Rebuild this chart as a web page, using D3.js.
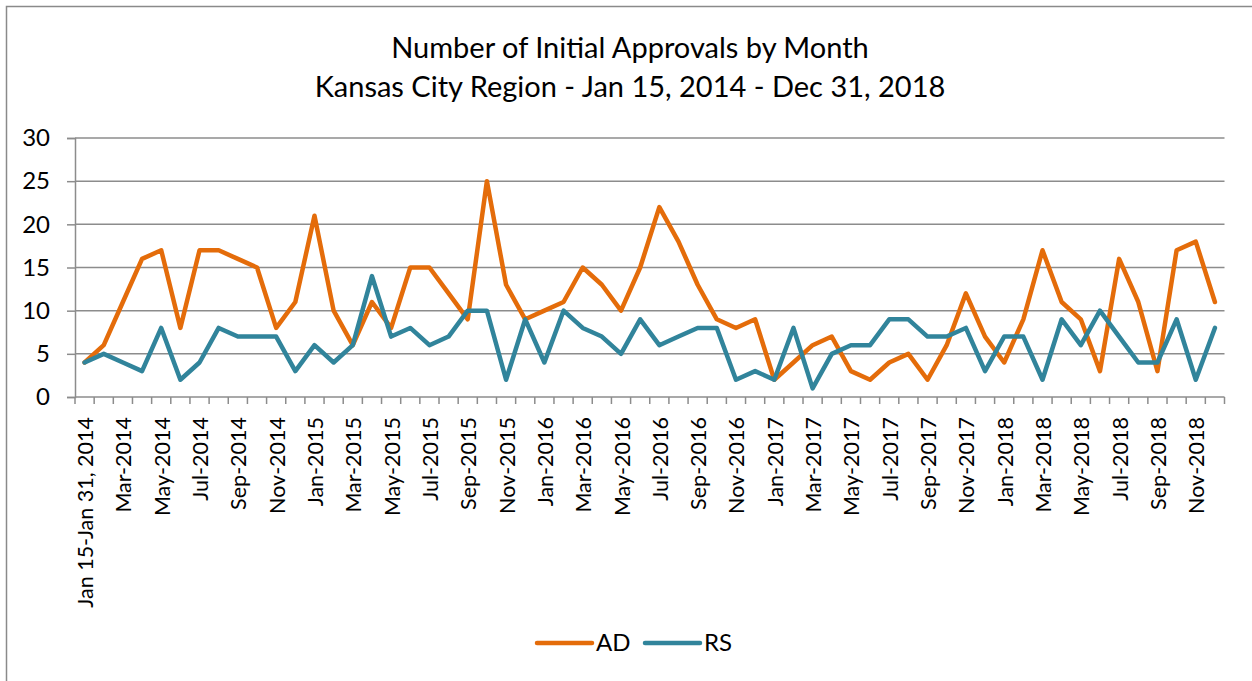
<!DOCTYPE html>
<html>
<head>
<meta charset="utf-8">
<script src="https://cdnjs.cloudflare.com/ajax/libs/d3/7.8.5/d3.min.js"></script>
<style>
    body { margin: 0; background: #fff; }
    text { font-family: Lato, "Open Sans", sans-serif; fill: #000; }
</style>
</head>
<body>
<svg id="chart"></svg>
<script>
const width = 1252,
    height = 681;

const margin = {top: 138, right: 28, bottom: 284, left: 75}

const titleLines = ["Number of Initial Approvals by Month", "Kansas City Region - Jan 15, 2014 - Dec 31, 2018"];

const monthNames = ["Jan", "Feb", "Mar", "Apr", "May", "Jun", "Jul", "Aug", "Sep", "Oct", "Nov", "Dec"];
const years = [2014, 2015, 2016, 2017, 2018];

// category labels, first one is the half month
let categories = [];
years.forEach(y => monthNames.forEach(m => categories.push(`${m}-${y}`)));
categories[0] = "Jan 15-Jan 31, 2014";

const adValues = [4, 6, 11, 16, 17, 8, 17, 17, 16, 15, 8, 11,
    21, 10, 6, 11, 8, 15, 15, 12, 9, 25, 13, 9,
    10, 11, 15, 13, 10, 15, 22, 18, 13, 9, 8, 9,
    2, 4, 6, 7, 3, 2, 4, 5, 2, 6, 12, 7,
    4, 9, 17, 11, 9, 3, 16, 11, 3, 17, 18, 11];

const rsValues = [4, 5, 4, 3, 8, 2, 4, 8, 7, 7, 7, 3,
    6, 4, 6, 14, 7, 8, 6, 7, 10, 10, 2, 9,
    4, 10, 8, 7, 5, 9, 6, 7, 8, 8, 2, 3,
    2, 8, 1, 5, 6, 6, 9, 9, 7, 7, 8, 3,
    7, 7, 2, 9, 6, 10, 7, 4, 4, 9, 2, 8];

const yTicks = [0, 5, 10, 15, 20, 25, 30];

const series = [
    {name: "AD", values: adValues, color: "#e46c0a"},
    {name: "RS", values: rsValues, color: "#31849b"}
];

const svg = d3.select("#chart").attr("width", width).attr("height", height);

// outer chart border (runs off the right and bottom edge)
svg.append("rect")
    .attr("x", 6.5).attr("y", 6.5)
    .attr("width", width + 20).attr("height", height + 20)
    .attr("fill", "none")
    .attr("stroke", "#8a8a8a")
    .attr("stroke-width", 1.5);

const plotW = 1224.5 - margin.left;

const x = d3.scaleBand().domain(categories).range([0, plotW]).padding(0);
const y = d3.scaleLinear().domain([0, 30]).range([397 - margin.top, 0]);

const g = svg.append("g").attr("transform", `translate(${margin.left},${margin.top})`);

// title
svg.selectAll(".title").data(titleLines).enter().append("text")
    .attr("class", "title")
    .attr("x", 630)
    .attr("y", (d, i) => 58 + i * 39)
    .attr("text-anchor", "middle")
    .style("font-size", "29px")
    .text(d => d);

// gridlines
g.append("g")
    .selectAll("line").data(yTicks.filter(d => d > 0)).enter().append("line")
    .attr("x1", 0).attr("x2", plotW)
    .attr("y1", d => y(d)).attr("y2", d => y(d))
    .attr("stroke", "#8c8c8c")
    .attr("stroke-width", 1.5);

// y axis
const yAxis = g.append("g").call(d3.axisLeft(y).tickValues(yTicks).tickSize(8).tickPadding(17));
yAxis.select(".domain").attr("stroke", "#8c8c8c").attr("stroke-width", 1.5);
yAxis.selectAll(".tick line").attr("stroke", "#8c8c8c").attr("stroke-width", 1.5);
yAxis.selectAll(".tick text")
    .style("font-size", "24px")
    .style("font-family", "Lato, sans-serif")
    .attr("fill", "#000");

// x axis line and ticks at category boundaries
const xAxis = g.append("g").attr("transform", `translate(0,${y(0)})`);
xAxis.append("line")
    .attr("x1", 0).attr("x2", plotW)
    .attr("stroke", "#8c8c8c").attr("stroke-width", 1.5);
xAxis.selectAll(".xtick").data(d3.range(categories.length + 1)).enter().append("line")
    .attr("class", "xtick")
    .attr("x1", i => i * x.step()).attr("x2", i => i * x.step())
    .attr("y1", 0).attr("y2", 7)
    .attr("stroke", "#8c8c8c").attr("stroke-width", 1.5);

// x labels, every other month
xAxis.selectAll(".xlabel").data(categories.filter((d, i) => i % 2 == 0)).enter().append("text")
    .attr("class", "xlabel")
    .attr("transform", d => `translate(${x(d) + x.bandwidth() / 2 + 1},20) rotate(-90)`)
    .attr("text-anchor", "end")
    .attr("dy", "0.35em")
    .style("font-size", "21.5px")
    .text(d => d);

// lines
const line = d3.line()
    .x((d, i) => x(categories[i]) + x.bandwidth() / 2)
    .y(d => y(d));

g.selectAll(".series").data(series).enter().append("path")
    .attr("class", "series")
    .attr("d", d => line(d.values))
    .attr("fill", "none")
    .attr("stroke", d => d.color)
    .attr("stroke-width", 4.5)
    .attr("stroke-linejoin", "round")
    .attr("stroke-linecap", "round");

// legend
const legend = svg.append("g").attr("transform", "translate(537,643)");
const item = legend.selectAll(".item").data(series).enter().append("g")
    .attr("class", "item")
    .attr("transform", (d, i) => `translate(${i * 108},0)`);
item.append("line")
    .attr("x1", 0).attr("x2", 55)
    .attr("stroke", d => d.color)
    .attr("stroke-width", 4.5)
    .attr("stroke-linecap", "round");
item.append("text")
    .attr("x", 59)
    .attr("dy", "0.35em")
    .style("font-size", "24px")
    .text(d => d.name);
</script>
</body>
</html>
